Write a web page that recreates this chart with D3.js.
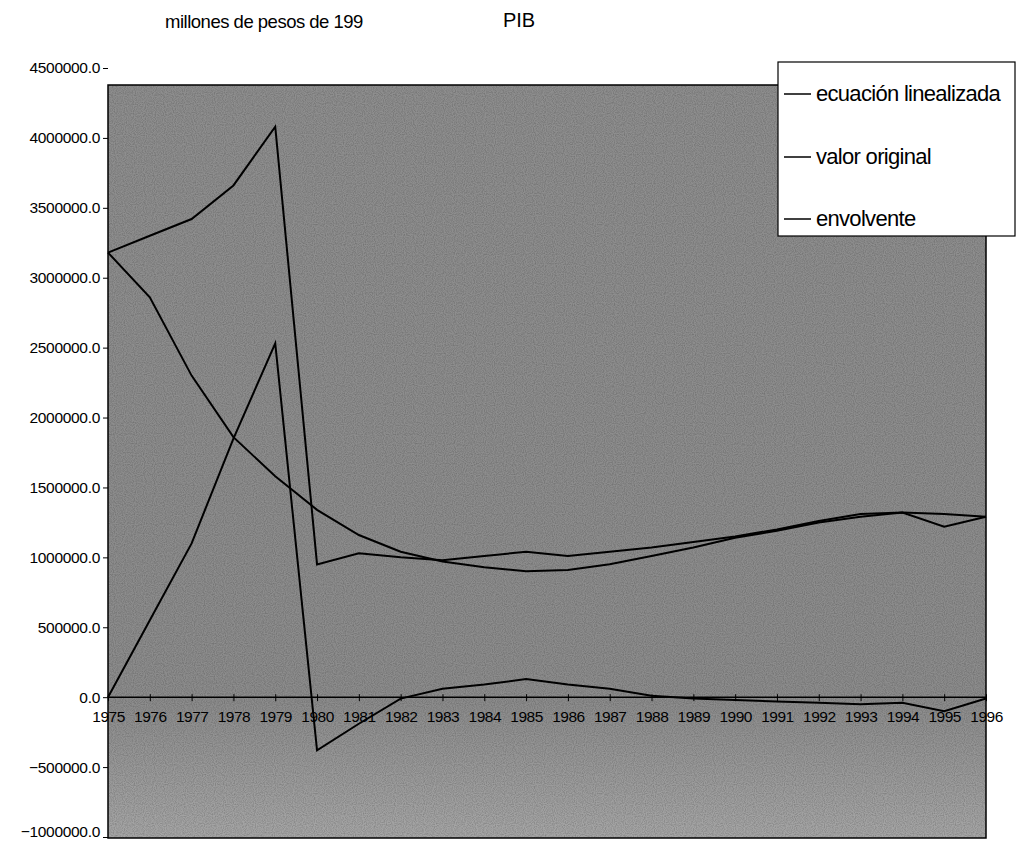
<!DOCTYPE html>
<html>
<head>
<meta charset="utf-8">
<script src="https://cdn.jsdelivr.net/npm/d3@7"></script>
<style>
  html, body { margin: 0; padding: 0; background: #fff; }
  svg { display: block; font-family: "Liberation Sans", Arial, sans-serif; }
</style>
</head>
<body>
<svg id="chart" width="1019" height="843"></svg>
<script>
// ---- data ----
const years = ["1975","1976","1977","1978","1979","1980","1981","1982","1983","1984","1985",
               "1986","1987","1988","1989","1990","1991","1992","1993","1994","1995","1996"];
const ecuacionLinealizada = [3180000, 2860000, 2300000, 1860000, 1580000, 1340000, 1160000, 1040000,
  970000, 930000, 900000, 910000, 950000, 1010000, 1070000, 1140000, 1190000, 1250000, 1290000,
  1320000, 1310000, 1290000];
const valorOriginal = [3180000, 3300000, 3420000, 3660000, 4080000, 950000, 1030000, 1000000,
  980000, 1010000, 1040000, 1010000, 1040000, 1070000, 1110000, 1150000, 1200000, 1260000, 1310000,
  1320000, 1220000, 1290000];
const envolvente = [0, 550000, 1100000, 1850000, 2530000, -380000, -190000, -10000, 60000, 90000,
  130000, 90000, 60000, 10000, -10000, -20000, -30000, -40000, -50000, -40000, -100000, -10000];
const yTicks = [-1000000, -500000, 0, 500000, 1000000, 1500000, 2000000, 2500000, 3000000,
  3500000, 4000000, 4500000];
const seriesNames = ["ecuación linealizada", "valor original", "envolvente"];
const titleText = "PIB";
const unitText = "millones de pesos de 199";

// ---- layout ----
const svg = d3.select("#chart");
const plotLeft = 108, plotRight = 986, plotTop = 85, plotBottom = 838;

const x = d3.scalePoint().domain(years).range([plotLeft, plotRight]);
const y = d3.scaleLinear().domain([-1000000, 4500000]).range([837, 68]);

const defs = svg.append("defs");
const grad = defs.append("linearGradient").attr("id", "bg").attr("x1", 0).attr("y1", 0).attr("x2", 0).attr("y2", 1);
grad.append("stop").attr("offset", "0").attr("stop-color", "#8e8e8e");
grad.append("stop").attr("offset", "0.82").attr("stop-color", "#8c8c8c");
grad.append("stop").attr("offset", "1").attr("stop-color", "#a6a6a6");
const f = defs.append("filter").attr("id", "grain").attr("x", 0).attr("y", 0).attr("width", 1).attr("height", 1);
f.append("feTurbulence").attr("type", "fractalNoise").attr("baseFrequency", 0.9)
  .attr("numOctaves", 1).attr("seed", 4).attr("result", "n");
f.append("feColorMatrix").attr("in", "n").attr("type", "matrix")
  .attr("values", "0 0 0 0 0  0 0 0 0 0  0 0 0 0 0  2.2 0 0 0 -0.8").attr("result", "dark");
f.append("feComposite").attr("in", "dark").attr("in2", "SourceGraphic").attr("operator", "in");

// plot background
svg.append("rect")
  .attr("x", plotLeft).attr("y", plotTop)
  .attr("width", plotRight - plotLeft).attr("height", plotBottom - plotTop)
  .attr("fill", "url(#bg)");
svg.append("rect")
  .attr("x", plotLeft).attr("y", plotTop)
  .attr("width", plotRight - plotLeft).attr("height", plotBottom - plotTop)
  .attr("fill", "#fff").attr("opacity", 0.18).attr("filter", "url(#grain)");
svg.append("rect")
  .attr("x", plotLeft).attr("y", plotTop)
  .attr("width", plotRight - plotLeft).attr("height", plotBottom - plotTop)
  .attr("fill", "none").attr("stroke", "#000").attr("stroke-width", 1.5);

// y axis
const yAxis = d3.axisLeft(y).tickValues(yTicks).tickSize(5).tickPadding(3)
  .tickFormat(d3.format(".1f"));
const gy = svg.append("g").attr("transform", `translate(${plotLeft},0)`).call(yAxis);
gy.select(".domain").remove();
gy.selectAll(".tick line").attr("stroke", "#000");
gy.selectAll(".tick text").attr("font-size", 15.5).attr("fill", "#000")
  .attr("font-family", "Liberation Sans, Arial, sans-serif").attr("letter-spacing", "-0.3")
  .attr("dy", d => d === yTicks[0] ? "-0.05em" : "0.32em");

// x axis at zero
const xAxis = d3.axisBottom(x).tickSize(0).tickPadding(14);
const gx = svg.append("g").attr("transform", `translate(0,${y(0)})`).call(xAxis);
gx.select(".domain").attr("stroke", "#000").attr("stroke-width", 1.5)
  .attr("d", `M${plotLeft},0H${plotRight}`);
gx.selectAll(".tick line").attr("y1", -3).attr("y2", 4).attr("stroke", "#000");
gx.selectAll(".tick text").attr("font-size", 15.5).attr("fill", "#000")
  .attr("font-family", "Liberation Sans, Arial, sans-serif").attr("letter-spacing", "-0.5");

// lines
const line = d3.line().x((d, i) => x(years[i])).y(d => y(d));
[ecuacionLinealizada, valorOriginal, envolvente].forEach(s => {
  svg.append("path").datum(s).attr("d", line)
    .attr("fill", "none").attr("stroke", "#000").attr("stroke-width", 2)
    .attr("stroke-linejoin", "miter");
});

// titles
svg.append("text").attr("x", 519).attr("y", 27).attr("text-anchor", "middle")
  .attr("font-size", 20).attr("fill", "#000").text(titleText);
svg.append("text").attr("x", 264).attr("y", 28).attr("text-anchor", "middle")
  .attr("font-size", 18.5).attr("letter-spacing", "-0.5").attr("fill", "#000").text(unitText);

// legend
const lg = svg.append("g");
lg.append("rect").attr("x", 778).attr("y", 62).attr("width", 237).attr("height", 174)
  .attr("fill", "#fff").attr("stroke", "#000").attr("stroke-width", 1.2);
const legendY = [92, 155, 217];
seriesNames.forEach((n, i) => {
  lg.append("line").attr("x1", 784).attr("x2", 811)
    .attr("y1", legendY[i] + 2).attr("y2", legendY[i] + 2)
    .attr("stroke", "#000").attr("stroke-width", 1.5);
  lg.append("text").attr("x", 816).attr("y", legendY[i] + 9)
    .attr("font-size", 22).attr("letter-spacing", "-0.7").attr("fill", "#000").text(n);
});
</script>
</body>
</html>
